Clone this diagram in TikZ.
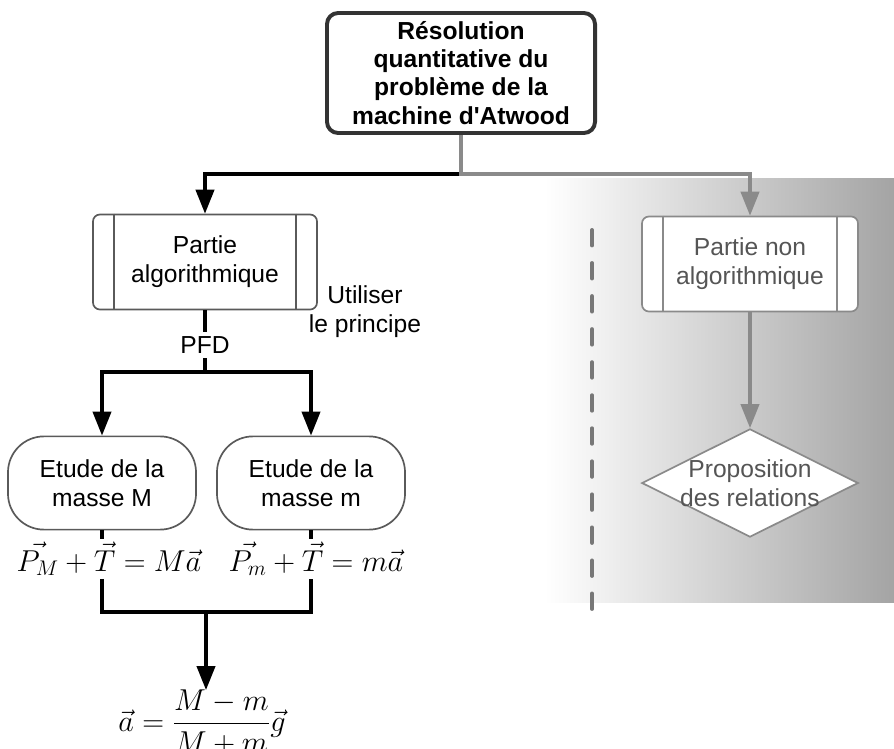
\RequirePackage{fix-cm}
\documentclass[tikz,border=0pt]{standalone}
\usepackage[no-math]{fontspec}
\setmainfont{Liberation Sans}[Ligatures=TeXOff]
\usepackage{amsmath}
\usepackage{tikz}
\usetikzlibrary{positioning,arrows.meta,shapes.geometric}
\definecolor{bord}{HTML}{5A5A5A}
\definecolor{grisfl}{HTML}{8A8A8A}
\definecolor{gristxt}{HTML}{555555}
\definecolor{tiret}{HTML}{777777}
\definecolor{fond}{HTML}{A4A4A4}
\definecolor{cadre}{HTML}{333333}

\begin{document}
\begin{tikzpicture}[x=0.025cm,y=-0.025cm,every node/.style={font=\fontsize{17.5}{20.5}\selectfont}]
    \tikzstyle{proc}=[rounded corners=5pt,draw=bord,line width=1.2pt,fill=white,
                      minimum width=5.6cm,minimum height=2.375cm,align=center];
    \tikzstyle{etude}=[rounded corners=0.9cm,draw=bord,line width=1.2pt,fill=white,
                       minimum width=4.7cm,minimum height=2.33cm,align=center];
    \tikzstyle{eq}=[inner sep=2pt,font=\fontsize{21.5}{26}\selectfont];
    \tikzstyle{arr}=[-{Triangle[length=17pt,width=13pt]},line width=2.2pt];
    \tikzstyle{lien}=[line width=2.2pt];
    \tikzstyle{garr}=[arr,grisfl];

    \useasboundingbox (0,0) rectangle (894,749);

    % right part: shaded background and separation
    \shade[left color=white,right color=fond] (545,178) rectangle (894,602);
    \draw[tiret,line width=2.8pt,line cap=round,dash pattern=on 11pt off 12.5pt] (592,230) -- (592,613);

    % top: the problem
    \node[draw=cadre,line width=2.8pt,rounded corners=8pt,minimum width=6.7cm,minimum height=3cm,
          align=center,font=\bfseries\fontsize{17.5}{20}\selectfont] (titre) at (461,73)
          {Résolution\\quantitative du\\problème de la\\machine d'Atwood};

    % left: algorithmic part
    \node[proc] (algo) at (205,262) {Partie\\algorithmique};
    \draw[bord,line width=1.2pt] ([xshift=0.55cm]algo.north west) -- ([xshift=0.55cm]algo.south west);
    \draw[bord,line width=1.2pt] ([xshift=-0.55cm]algo.north east) -- ([xshift=-0.55cm]algo.south east);
    \node[align=center] (util) at (365,312) {Utiliser\\le principe};
    \node (pfd) at (205,345) {PFD};
    \node[etude] (etM) at (102,483) {Etude de la\\masse M};
    \node[etude] (etm) at (311,483) {Etude de la\\masse m};
    \node[eq] (eqM) at (109,559) {$\vec{P_M}+\vec{T}=M\vec{a}$};
    \node[eq] (eqm) at (316,559) {$\vec{P_m}+\vec{T}=m\vec{a}$};
    \node[eq,anchor=north,inner sep=0pt] (acc) at (202,690) {$\vec{a}=\dfrac{M-m}{M+m}\vec{g}$};

    % right: non algorithmic part
    \node[proc,draw=grisfl,text=gristxt,minimum width=5.4cm] (nalgo) at (750,264) {Partie non\\algorithmique};
    \draw[grisfl,line width=1.2pt] ([xshift=0.55cm]nalgo.north west) -- ([xshift=0.55cm]nalgo.south west);
    \draw[grisfl,line width=1.2pt] ([xshift=-0.55cm]nalgo.north east) -- ([xshift=-0.55cm]nalgo.south east);
    \node[diamond,aspect=2,draw=grisfl,line width=1.2pt,fill=white,text=gristxt,
          inner sep=-2pt,align=center] (rel) at (750,483) {Proposition\\des relations};

    % connectors
    \draw[arr] (titre.south) -- ++(0,39) -| (algo.north);
    \draw[garr] (titre.south) -- ++(0,39) -| (nalgo.north);
    \draw[lien] (algo.south) -- (pfd.north);
    \coordinate (fourche) at (205,372);
    \draw[arr] (pfd.south) -- (fourche) -| (etM.north);
    \draw[arr] (fourche) -| (etm.north);
    \draw[lien] (etM.south) -- (etM.south |- eqM.north);
    \draw[lien] (etm.south) -- (etm.south |- eqm.north);
    \coordinate (jonction) at (206,612);
    \draw[lien] (etM.south |- eqM.south) |- (jonction) -| (etm.south |- eqm.south);
    \draw[arr] (jonction) -- (jonction |- acc.north);
    \draw[garr] (nalgo.south) -- (rel.north);
\end{tikzpicture}
\end{document}
